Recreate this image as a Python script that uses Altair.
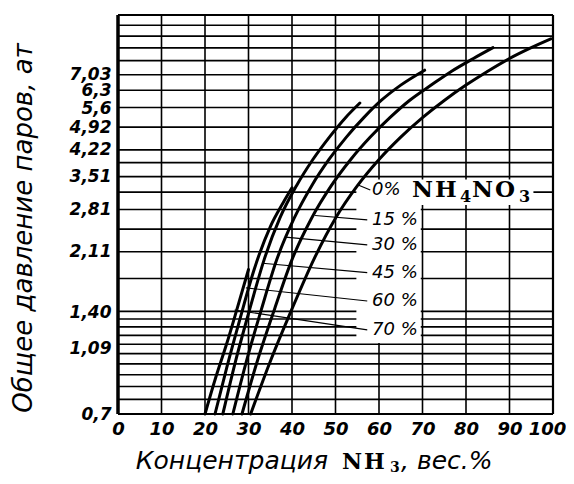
import altair as alt
import pandas as pd

# ---- curve data (NH3 wt.% vs total vapour pressure, at) ----
c0_x = [30.5, 35, 40, 45, 50, 55, 60, 65, 70, 75, 80, 85, 90, 95, 99.5]
c0_y = [0.70, 1.00, 1.43, 2.00, 2.65, 3.30, 3.95, 4.60, 5.25, 5.90, 6.55, 7.20, 7.85, 8.45, 8.97]
c15_x = [28.5, 32, 36, 40, 44.5, 49, 53.5, 58, 62.5, 67, 72, 76.7, 81.7, 86.2]
c15_y = [0.70, 1.00, 1.43, 2.00, 2.65, 3.30, 3.95, 4.60, 5.25, 5.90, 6.55, 7.20, 7.85, 8.45]
c30_x = [26.4, 29.5, 33, 36.5, 40.5, 44.5, 48.5, 52.5, 56.5, 60.5, 65, 70.5]
c30_y = [0.70, 1.00, 1.43, 2.00, 2.65, 3.30, 3.95, 4.60, 5.25, 5.90, 6.55, 7.25]
c45_x = [24.1, 27, 30.3, 33.6, 37.2, 41, 44.8, 48.6, 52.3, 55.6]
c45_y = [0.70, 1.00, 1.43, 2.00, 2.65, 3.30, 3.95, 4.60, 5.25, 5.80]
c60_x = [22.3, 25, 28, 31.3, 35, 38, 40]
c60_y = [0.70, 0.96, 1.33, 1.87, 2.50, 2.95, 3.26]
c70_x = [20, 22.5, 25, 27.5, 30]
c70_y = [0.70, 0.90, 1.13, 1.45, 1.87]

series_names = ["0%", "15%", "30%", "45%", "60%", "70%"]
series_x = [c0_x, c15_x, c30_x, c45_x, c60_x, c70_x]
series_y = [c0_y, c15_y, c30_y, c45_y, c60_y, c70_y]

# ---- axes / grid ----
x_ticks = [0, 10, 20, 30, 40, 50, 60, 70, 80, 90, 100]
x_grid = [10, 20, 30, 40, 50, 60, 70, 80, 90]
y_labels = [0.7, 1.09, 1.40, 2.11, 2.81, 3.51, 4.22, 4.92, 5.6, 6.3, 7.03]
y_grid = [0.773, 0.844, 0.914, 0.984, 1.055, 1.125, 1.195, 1.266, 1.336, 1.406,
          1.758, 2.109, 2.461, 2.812, 3.164, 3.515, 3.867, 4.218, 4.922, 5.625,
          6.328, 7.031, 7.734, 8.437, 9.140, 9.843]
x_min, x_max = 0, 100
y_min, y_max = 0.7, 10.55

# ---- curve labels and leader lines ----
lab_text = ["15 %", "30 %", "45 %", "60 %", "70 %"]
lab_y = [2.62, 2.21, 1.83, 1.51, 1.24]
lead_x1 = [58.0, 57.3, 57.3, 57.3, 57.3, 57.3]
lead_y1 = [3.21, 2.62, 2.21, 1.83, 1.51, 1.24]
lead_x2 = [55.2, 45.3, 38.5, 33.2, 29.4, 26.8]
lead_y2 = [3.32, 2.70, 2.33, 1.95, 1.65, 1.42]

# salt formula glyphs (text, pixel offset from anchor, size, vertical offset)
salt_t = ["N", "H", "4", "N", "O", "3"]
salt_dx = [0, 23, 48, 60, 83, 107]
salt_fs = [23, 23, 16, 23, 23, 16]
salt_dy = [0, 0, 7, 0, 0, 7]

# label background boxes
box_x1 = [54.8, 54.8]
box_x2 = [95.5, 69.6]
box_y1 = [2.90, 1.135]
box_y2 = [3.45, 2.90]

rows = []
for name, xs_, ys_ in zip(series_names, series_x, series_y):
    for i, (a, b) in enumerate(zip(xs_, ys_)):
        rows.append({"series": name, "x": a, "y": b, "o": i})
curves = pd.DataFrame(rows)

W, H = 435, 399
xs = alt.Scale(domain=[x_min, x_max], nice=False, zero=False)
ys = alt.Scale(type="log", domain=[y_min, y_max], nice=False)
SANS = "DejaVu Sans"
SERIF = "DejaVu Serif"

AX = alt.Axis(values=x_ticks, grid=False, ticks=False, domain=False,
              labelFont=SANS, labelFontStyle="italic", labelFontSize=18,
              labelFontWeight="bold", labelOverlap=False,
              labelOffset={"condition": {"test": "datum.value == 100", "value": -6}, "value": 0},
              labelPadding=6, labelColor="black", title=None, labelFlush=False)
AY = alt.Axis(values=y_labels, grid=False, ticks=False, domain=False,
              labelFont=SANS, labelFontStyle="italic", labelFontSize=17,
              labelFontWeight="bold", labelPadding=7, labelColor="black", title=None,
              labelOverlap=False,
              labelExpr="datum.value == 1.4 ? '1,40' : replace(toString(datum.value), '.', ',')")


def X(f):
    return alt.X(f, scale=xs, axis=AX)


def Y(f):
    return alt.Y(f, scale=ys, axis=AY)


vgrid = alt.Chart(pd.DataFrame({"x": x_grid})).mark_rule(color="black", strokeWidth=1.6).encode(
    x=X("x:Q"))
hgrid = alt.Chart(pd.DataFrame({"y": y_grid})).mark_rule(color="black", strokeWidth=1.6).encode(
    y=Y("y:Q"))

frame_v = alt.Chart(pd.DataFrame({"x": [x_min, x_max], "w": [3.5, 2.2]})).mark_rule(color="black").encode(
    x=X("x:Q"), strokeWidth=alt.StrokeWidth("w:Q", scale=None))
frame_h = alt.Chart(pd.DataFrame({"y": [y_min, y_max]})).mark_rule(color="black", strokeWidth=2.2).encode(
    y=Y("y:Q"))

boxes = alt.Chart(pd.DataFrame({"x1": box_x1, "x2": box_x2, "y1": box_y1, "y2": box_y2})).mark_rect(
    color="white").encode(x=X("x1:Q"), x2="x2:Q", y=Y("y1:Q"), y2="y2:Q")

lines = alt.Chart(curves).mark_line(color="black", strokeWidth=3, strokeCap="round",
                                    interpolate="monotone").encode(
    x=X("x:Q"), y=Y("y:Q"), detail="series:N", order="o:Q")

leaders = alt.Chart(pd.DataFrame({"x1": lead_x1, "y1": lead_y1, "x2": lead_x2, "y2": lead_y2})).mark_rule(
    color="black", strokeWidth=1.1).encode(x=X("x1:Q"), y=Y("y1:Q"), x2="x2:Q", y2="y2:Q")

pct_labels = alt.Chart(pd.DataFrame({"t": lab_text, "y": lab_y, "x": [58.4] * 5})).mark_text(
    font=SANS, fontStyle="italic", fontSize=18, align="left", baseline="middle", color="black").encode(
    x=X("x:Q"), y=Y("y:Q"), text="t:N")

zero_lab = alt.Chart(pd.DataFrame({"t": ["0%"], "x": [58.4], "y": [3.21]})).mark_text(
    font=SANS, fontStyle="italic", fontSize=18, align="left", baseline="middle", color="black").encode(
    x=X("x:Q"), y=Y("y:Q"), text="t:N")

salt_layers = []
for g, dx, fs, dy in zip(salt_t, salt_dx, salt_fs, salt_dy):
    salt_layers.append(alt.Chart(pd.DataFrame({"t": [g], "x": [67.6], "y": [3.21]})).mark_text(
        font=SERIF, fontWeight="bold", fontSize=fs, align="left", baseline="middle",
        dx=dx, dy=dy, color="black").encode(x=X("x:Q"), y=Y("y:Q"), text="t:N"))


def txt(t, x, y, font=SANS, size=25, style="italic", weight="normal", angle=0, align="left",
        baseline="alphabetic"):
    return alt.Chart(pd.DataFrame({"t": [t]})).mark_text(
        font=font, fontSize=size, fontStyle=style, fontWeight=weight, angle=angle,
        align=align, baseline=baseline, color="black").encode(
        x=alt.value(x), y=alt.value(y), text="t:N")


t1 = txt("Концентрация", 210, 454, align="right")
t2a = txt("N", 224, 454, font=SERIF, size=22, style="normal", weight="bold")
t2b = txt("H", 246, 454, font=SERIF, size=22, style="normal", weight="bold")
t3 = txt("3", 272, 457, font=SERIF, size=14, style="normal", weight="bold")
t4 = txt(", вес.%", 283, 454)
ty = txt("Общее давление паров, ат", -94, 213, size=26, angle=270, align="center", baseline="middle")

chart = alt.layer(vgrid, hgrid, boxes, frame_v, frame_h, lines, leaders,
                  pct_labels, zero_lab, *salt_layers, t1, t2a, t2b, t3, t4, ty).properties(
    width=W, height=H,
    autosize=alt.AutoSizeParams(type="none"),
    padding={"left": 110, "top": 7, "right": 13, "bottom": 62},
    background="white",
).configure_view(stroke=None)

chart.save("out.html", embed_options={"renderer": "svg", "actions": False})
